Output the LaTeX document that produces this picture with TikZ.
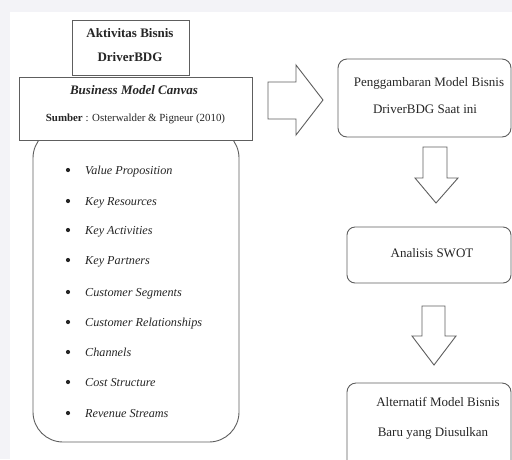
\documentclass[tikz,border=0pt]{standalone}
\usepackage{fontspec}
\setmainfont{Liberation Serif}
\definecolor{bgstrip}{HTML}{F3F3F7}
\definecolor{ink}{HTML}{262626}
\definecolor{edge}{HTML}{5E5E5E}
\begin{document}
\begin{tikzpicture}[x=1pt,y=-1pt,
  box/.style={draw=edge,line width=0.9pt,fill=white,inner sep=0pt,outer sep=0pt},
  rbox/.style={box,rounded corners=9pt},
  txt/.style={inner sep=0pt,anchor=base,text=ink,font=\fontsize{13}{15}\selectfont},
  item/.style={inner sep=0pt,anchor=base west,text=ink,font=\fontsize{12.2}{14}\selectfont\itshape},
  dot/.style={circle,fill=ink,inner sep=0pt,minimum size=4.2pt},
  blockarrow/.style={draw=edge,line width=0.9pt,fill=white,line join=miter}]
\useasboundingbox (0,0) rectangle (512,459);
\clip (0,0) rectangle (512,459);
\fill[bgstrip] (0,0) rectangle (512,459);
\fill[white] (10,12) rectangle (512,459);

% list box (behind box2)
\node[box,rounded corners=30pt,minimum width=206pt,minimum height=314pt] (list) at (136,285) {};
% box 1 and box 2
\node[box,minimum width=117pt,minimum height=55pt] (act) at (130.5,47.5) {};
\node[box,minimum width=233pt,minimum height=63pt] (bmc) at (135.5,108.5) {};

\node[txt,font=\fontsize{13}{15}\selectfont\bfseries] (t1a) at (130,37) {Aktivitas Bisnis};
\node[txt,font=\fontsize{13}{15}\selectfont\bfseries] (t1b) at (130,61) {DriverBDG};
\node[txt,font=\fontsize{13}{15}\selectfont\bfseries\itshape] (t2a) at (134,94) {Business Model Canvas};
\node[txt,font=\fontsize{10.9}{13}\selectfont] (t2b) at (135.5,121) {\textbf{Sumber} : Osterwalder \& Pigneur (2010)};

% list items
\foreach \y/\lab [count=\i] in {174/Value Proposition,205/Key Resources,234/Key Activities,264/Key Partners,296/Customer Segments,326/Customer Relationships,356/Channels,386/Cost Structure,417/Revenue Streams}{
  \node[dot] (b\i) at (68,\y-4) {};
  \node[item] (i\i) at (85,\y) {\lab};
}

% right column boxes
\node[rbox,minimum width=173pt,minimum height=78pt] (cur) at (424.5,98) {};
\node[txt] (t3a) at (429,86) {Penggambaran Model Bisnis};
\node[txt] (t3b) at (425,113) {DriverBDG Saat ini};

\node[rbox,rounded corners=8pt,minimum width=164pt,minimum height=56pt] (swot) at (429,255) {};
\node[txt] (t4) at (432,257) {Analisis SWOT};

\node[rbox,minimum width=164pt,minimum height=92pt] (alt) at (429,429) {};
\node[txt] (t5a) at (438,406) {Alternatif Model Bisnis};
\node[txt] (t5b) at (433,436) {Baru yang Diusulkan};

% block arrows
\draw[blockarrow] (268,82) -- (296,82) -- (296,65) -- (323,100) -- (296,135) -- (296,119) -- (268,119) -- cycle;
\draw[blockarrow] (423,147) -- (447,147) -- (447,178) -- (458,178) -- (436,203) -- (415,178) -- (423,178) -- cycle;
\draw[blockarrow] (422,306) -- (445,306) -- (445,336) -- (456,336) -- (434,365) -- (412,336) -- (422,336) -- cycle;
\end{tikzpicture}
\end{document}
